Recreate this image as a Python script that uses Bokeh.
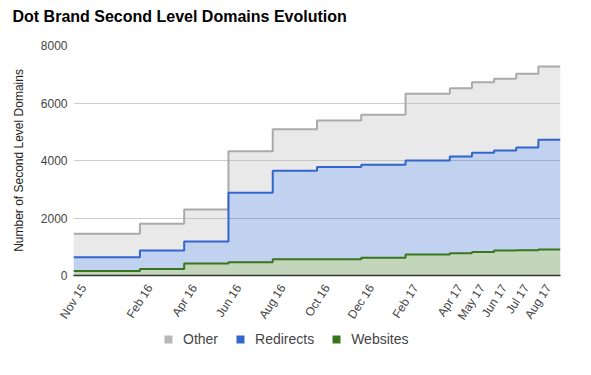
import numpy as np
from bokeh.plotting import figure
from bokeh.layouts import column
from bokeh.models import Range1d, FixedTicker, Legend, LegendItem, Title
from bokeh.embed import file_html
from bokeh.resources import INLINE

# ---- data ----
months = ["2015-11", "2016-02", "2016-04", "2016-06", "2016-08", "2016-10", "2016-12",
          "2017-02", "2017-04", "2017-05", "2017-06", "2017-07", "2017-08"]
labels = ["Nov 15", "Feb 16", "Apr 16", "Jun 16", "Aug 16", "Oct 16", "Dec 16",
          "Feb 17", "Apr 17", "May 17", "Jun 17", "Jul 17", "Aug 17"]
websites = [160, 230, 415, 465, 565, 565, 615, 730, 775, 820, 870, 880, 905]
redirects = [475, 640, 765, 2410, 3075, 3205, 3235, 3270, 3365, 3450, 3480, 3570, 3815]
other = [815, 930, 1120, 1450, 1450, 1620, 1740, 2320, 2375, 2455, 2490, 2565, 2550]
series_names = ["Other", "Redirects", "Websites"]
y_ticks = [0, 2000, 4000, 6000, 8000]

FONT = "Liberation Sans"
W = 590

idx = [(int(m[:4]) - 2015) * 12 + int(m[5:]) - 11 for m in months]
x = np.array(idx + [idx[-1] + 1], dtype=float)


def ext(a):
    a = np.array(a, dtype=float)
    return np.append(a, a[-1])


w_top = ext(websites)
r_top = w_top + ext(redirects)
o_top = r_top + ext(other)
zero = np.zeros_like(x)

B_LEFT = 73
B_BOTTOM = 54
H1 = 275 + B_BOTTOM
p = figure(width=W, height=H1, output_backend="svg", toolbar_location=None,
           x_range=Range1d(x[0], x[-1]), y_range=Range1d(0, y_ticks[-1]),
           min_border_left=B_LEFT, min_border_right=W - 560, min_border_top=45,
           min_border_bottom=B_BOTTOM)
p.outline_line_color = None
p.background_fill_color = "white"

# title (outermost in the top panel) with a thin spacer between it and the frame
p.title.text = "Dot Brand Second Level Domains Evolution"
p.title.text_font = FONT
p.title.text_font_size = "16px"
p.title.text_font_style = "bold"
p.title.text_color = "#000000"
p.title.align = "left"
p.title.offset = -61
p.title.standoff = 0
p.add_layout(Title(text=" ", text_font_size="1px", standoff=18), "above")

# areas
C_O, C_R, C_W = "#b7b7b7", "#3366cc", "#38761d"
p.varea_step(x=x, y1=r_top, y2=o_top, step_mode="after", fill_color=C_O, fill_alpha=0.3)
p.varea_step(x=x, y1=w_top, y2=r_top, step_mode="after", fill_color=C_R, fill_alpha=0.3)
p.varea_step(x=x, y1=zero, y2=w_top, step_mode="after", fill_color=C_W, fill_alpha=0.3)
p.step(x=x, y=o_top, mode="after", line_color="#aaaaaa", line_width=2)
p.step(x=x, y=r_top, mode="after", line_color=C_R, line_width=2)
p.step(x=x, y=w_top, mode="after", line_color=C_W, line_width=2)

# axes (labels nudged right of their month like the original)
shift = 0.45
tick_pos = [i + shift for i in idx]
p.xaxis.ticker = FixedTicker(ticks=tick_pos)
p.xaxis.major_label_overrides = {t: l for t, l in zip(tick_pos, labels)}
p.xaxis.major_label_orientation = 1.0
p.xaxis.major_tick_line_color = None
p.xaxis.minor_tick_line_color = None
p.xaxis.major_tick_out = 0
p.xaxis.major_tick_in = 0
p.xaxis.axis_line_color = "#333333"
p.xaxis.axis_line_width = 1.5
p.xaxis.major_label_text_font = FONT
p.xaxis.major_label_text_font_size = "12px"
p.xaxis.major_label_text_color = "#444444"
p.xaxis.major_label_standoff = 10
p.xgrid.grid_line_color = None

p.yaxis.ticker = FixedTicker(ticks=y_ticks)
p.yaxis.axis_line_color = None
p.yaxis.major_tick_line_color = None
p.yaxis.minor_tick_line_color = None
p.yaxis.major_tick_out = 0
p.yaxis.major_tick_in = 0
p.yaxis.major_label_text_font = FONT
p.yaxis.major_label_text_font_size = "12px"
p.yaxis.major_label_text_color = "#444444"
p.yaxis.major_label_standoff = 6
p.yaxis.axis_label = "Number of Second Level Domains"
p.yaxis.axis_label_text_font = FONT
p.yaxis.axis_label_text_font_size = "12px"
p.yaxis.axis_label_text_font_style = "normal"
p.yaxis.axis_label_text_color = "#222222"
p.yaxis.axis_label_standoff = 12
p.ygrid.grid_line_color = "#cccccc"

# legend strip (its swatch renderers hold one point placed off-canvas);
# the column aligns this strip's frame with the chart frame above
H2 = 40
lg = figure(width=W, height=H2, output_backend="svg", toolbar_location=None,
            x_range=Range1d(0, 1), y_range=Range1d(0, 1),
            x_axis_location=None, y_axis_location=None,
            min_border=0, outline_line_color=None)
lg.grid.visible = False
rs = [lg.rect(x=[-5], y=[-5], width=0.1, height=0.1, fill_color=c, line_color=None)
      for c in (C_O, C_R, C_W)]
legend = Legend(items=[LegendItem(label=n, renderers=[r]) for n, r in zip(series_names, rs)],
                orientation="horizontal", location=(163 - B_LEFT, 22),
                glyph_width=10, glyph_height=10, label_standoff=10, spacing=17,
                padding=0, margin=0, border_line_color=None, background_fill_alpha=0,
                label_text_font=FONT, label_text_font_size="14px", label_text_color="#444444",
                label_height=10)
lg.add_layout(legend, "center")

layout = column(p, lg, spacing=0)
open("out.html", "w").write(file_html(layout, INLINE))
